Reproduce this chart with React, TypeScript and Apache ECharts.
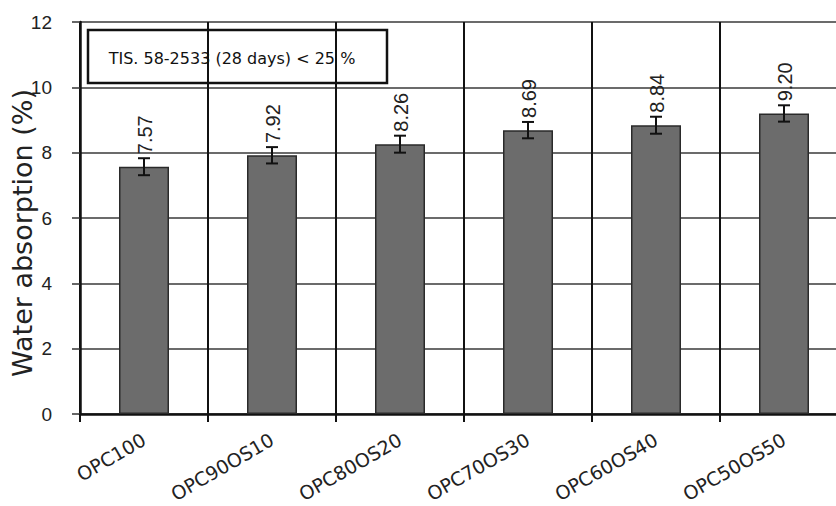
import React, { useEffect, useRef } from "react";
import * as echarts from "echarts";

const categories = ["OPC100", "OPC90OS10", "OPC80OS20", "OPC70OS30", "OPC60OS40", "OPC50OS50"];
const absorption = [7.57, 7.92, 8.26, 8.69, 8.84, 9.2];
const errors = [0.26, 0.25, 0.26, 0.25, 0.26, 0.25];
const yTicks = { min: 0, max: 12, interval: 2 };
const yTitle = "Water absorption (%)";
const noteText = "TIS. 58-2533 (28 days) < 25 %";

export default function App() {
  const ref = useRef<HTMLDivElement>(null);
  useEffect(() => {
    if (!ref.current) return;
    const chart = echarts.init(ref.current, null, { renderer: "svg" });
    const errData = categories.map((c, i) => [i, absorption[i], errors[i]]);
    chart.setOption({
      animation: false,
      backgroundColor: "#ffffff",
      grid: { left: 80, top: 22, bottom: 92, right: 12, containLabel: false, outerBoundsMode: "none" },
      xAxis: {
        type: "category",
        data: categories,
        boundaryGap: true,
        axisLine: { lineStyle: { color: "#111", width: 2.5 } },
        axisTick: { show: true, length: 8, interval: 0, lineStyle: { color: "#111", width: 2 } },
        axisLabel: {
          interval: 0,
          rotate: 30,
          margin: 24,
          color: "#222",
          fontFamily: "DejaVu Sans",
          fontSize: 19,
        },
        splitLine: { show: true, interval: 0, lineStyle: { color: "#111", width: 2 } },
      },
      yAxis: {
        type: "value",
        min: yTicks.min,
        max: yTicks.max,
        interval: yTicks.interval,
        axisLine: { show: true, lineStyle: { color: "#111", width: 2.5 } },
        axisTick: { show: true, length: 8, lineStyle: { color: "#333", width: 1.5 } },
        axisLabel: {
          margin: 28,
          color: "#222",
          fontFamily: "Liberation Sans",
          fontSize: 19,
        },
        splitLine: { show: true, lineStyle: { color: "#3a3a3a", width: 1.5 } },
      },
      graphic: [
        {
          type: "text",
          x: 22,
          y: 233,
          rotation: Math.PI / 2,
          style: {
            text: yTitle,
            fill: "#222",
            font: '27px "DejaVu Sans"',
            align: "center",
            verticalAlign: "middle",
          },
        },
        {
          type: "group",
          children: [
            {
              type: "rect",
              shape: { x: 88, y: 30, width: 299, height: 53 },
              style: { fill: "#ffffff", stroke: "#111", lineWidth: 2.5 },
            },
            {
              type: "text",
              x: 232,
              y: 58,
              style: {
                text: noteText,
                fill: "#111",
                font: '16px "DejaVu Sans"',
                align: "center",
                verticalAlign: "middle",
              },
            },
          ],
        },
      ],
      series: [
        {
          type: "bar",
          data: absorption,
          barWidth: 50,
          itemStyle: { color: "#6c6c6c", borderColor: "#2a2a2a", borderWidth: 1.5 },
        },
        {
          type: "custom",
          data: errData,
          z: 5,
          renderItem: (params: any, api: any) => {
            const i = api.value(0);
            const v = api.value(1);
            const e = api.value(2);
            const top = api.coord([i, v + e]);
            const bot = api.coord([i, v - e]);
            const hw = 6;
            const st = { stroke: "#111", lineWidth: 2 };
            return {
              type: "group",
              children: [
                { type: "line", shape: { x1: top[0], y1: top[1], x2: bot[0], y2: bot[1] }, style: st },
                { type: "line", shape: { x1: top[0] - hw, y1: top[1], x2: top[0] + hw, y2: top[1] }, style: st },
                { type: "line", shape: { x1: bot[0] - hw, y1: bot[1], x2: bot[0] + hw, y2: bot[1] }, style: st },
                {
                  type: "text",
                  x: top[0] + 1,
                  y: top[1] - 4,
                  rotation: Math.PI / 2,
                  style: {
                    text: v.toFixed(2),
                    fill: "#222",
                    font: '20px "Liberation Sans"',
                    align: "left",
                    verticalAlign: "middle",
                  },
                },
              ],
            };
          },
        },
      ],
    });
    return () => chart.dispose();
  }, []);
  return (
    <div style={{ position: "fixed", left: 0, top: 0, width: 836, height: 506, overflow: "hidden", background: "#fff" }}>
      <div ref={ref} style={{ width: 860, height: 506 }} />
    </div>
  );
}
